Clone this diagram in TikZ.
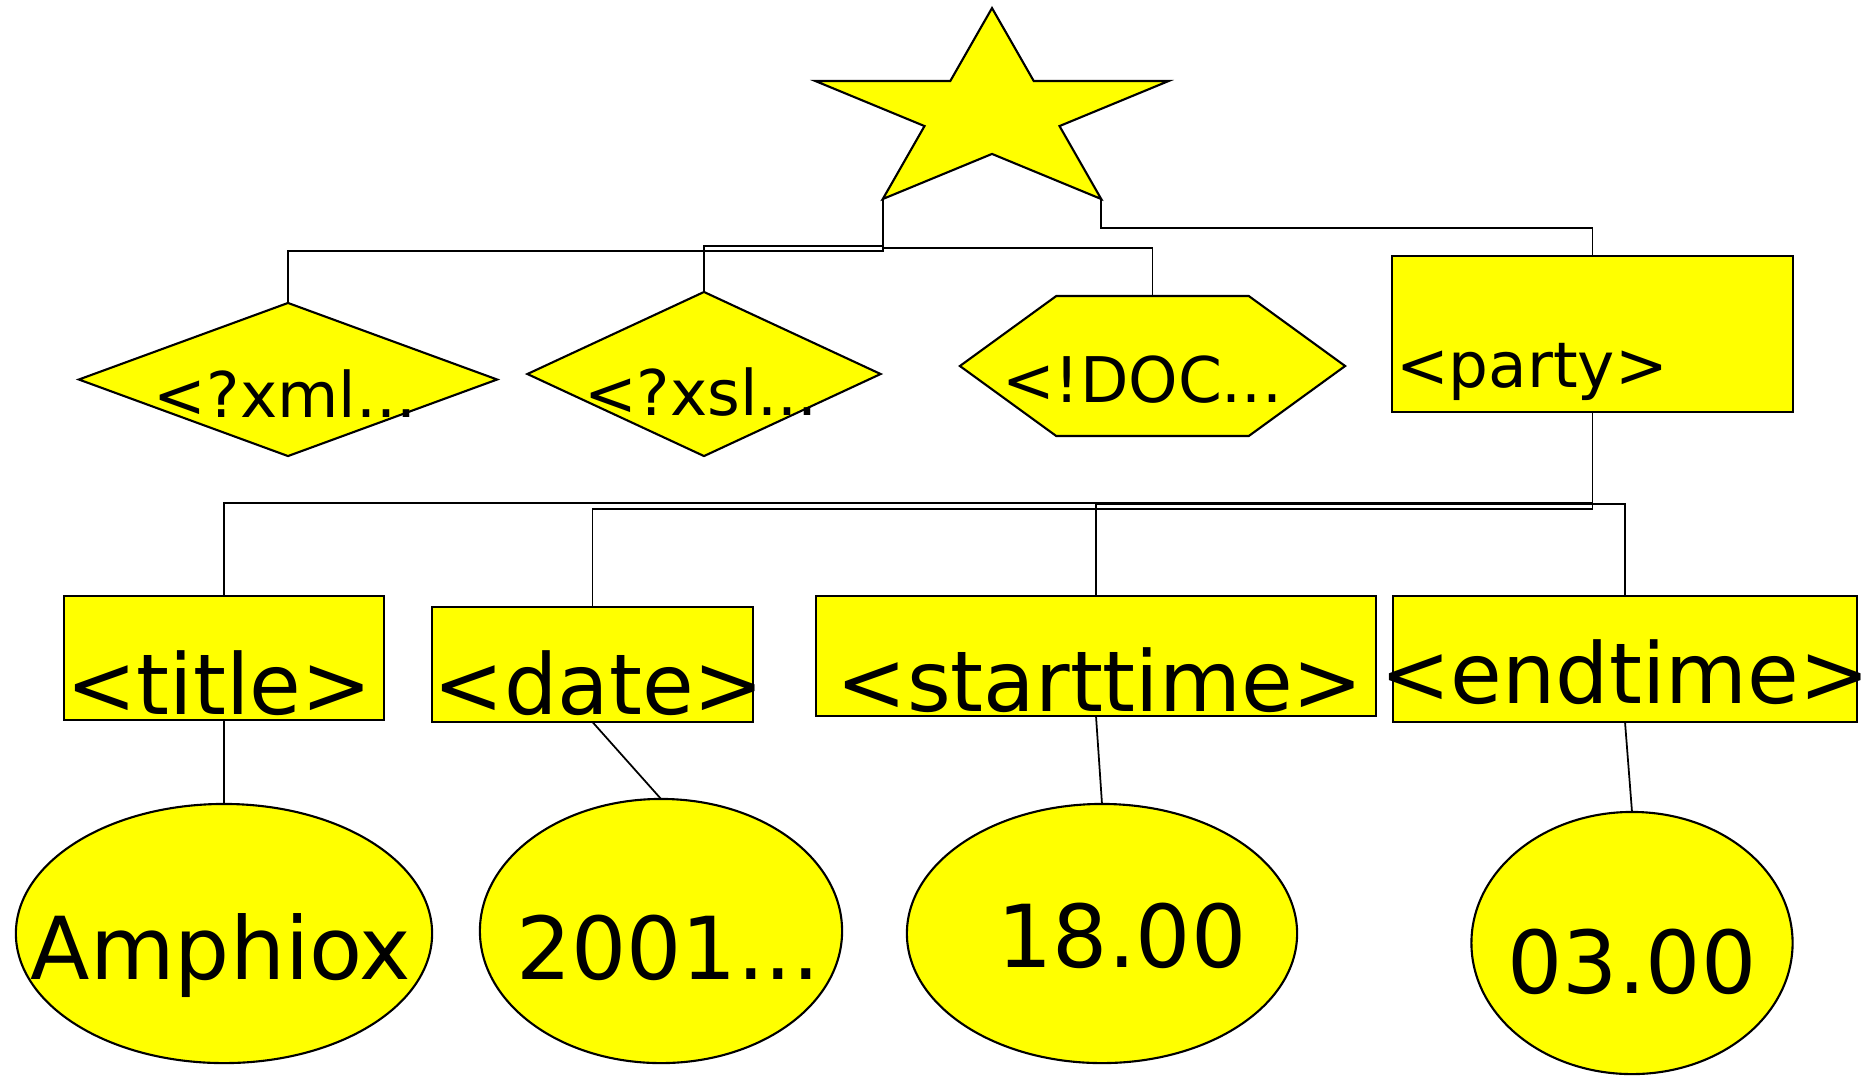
\documentclass[tikz,border=0pt]{standalone}
\usepackage{fontspec}
\setmainfont{DejaVu Sans}
\usetikzlibrary{shapes.geometric}
\usetikzlibrary{shapes.symbols}
\definecolor{nodeyellow}{RGB}{255,255,0}

\begin{document}
\begin{tikzpicture}[x=0.01cm, y=-0.01cm,
    box/.style={draw, fill=nodeyellow, line width=0.6pt, inner sep=0pt, outer sep=0pt},
    link/.style={line width=0.5pt},
    pitag/.style={inner sep=0pt, anchor=base, font=\fontsize{17.9pt}{20pt}\selectfont},
    tag/.style={inner sep=0pt, anchor=base, font=\fontsize{23.9pt}{26pt}\selectfont},
    leaf/.style={inner sep=0pt, anchor=base, font=\fontsize{24.7pt}{27pt}\selectfont}]

    \useasboundingbox (0,0) rectangle (1870,1075);

    %nodes
    \node[box, star, star points=5, star point ratio=2.618, minimum size=2.11cm, xscale=1.76, transform shape] (root) at (992,113.6) {};
    \node[box, diamond, minimum width=4.18cm, minimum height=1.53cm] (xml) at (288,379.5) {};
    \node[box, diamond, minimum width=3.53cm, minimum height=1.64cm] (xsl) at (704,374) {};
    \node[box, signal, signal to=west and east, signal pointer angle=72, minimum width=3.85cm, minimum height=1.40cm] (doctype) at (1152.5,366) {};
    \node[box, minimum width=4.01cm, minimum height=1.56cm] (party) at (1592.5,334) {};
    \node[box, minimum width=3.20cm, minimum height=1.24cm] (title) at (224,658) {};
    \node[box, minimum width=3.21cm, minimum height=1.15cm] (date) at (592.5,664.5) {};
    \node[box, minimum width=5.60cm, minimum height=1.20cm] (starttime) at (1096,656) {};
    \node[box, minimum width=4.64cm, minimum height=1.26cm] (endtime) at (1625,659) {};
    \node[box, ellipse, minimum width=4.16cm, minimum height=2.59cm] (titleval) at (224,933.5) {};
    \node[box, ellipse, minimum width=3.62cm, minimum height=2.64cm] (dateval) at (661,931) {};
    \node[box, ellipse, minimum width=3.90cm, minimum height=2.59cm] (startval) at (1102,933.5) {};
    \node[box, ellipse, minimum width=3.21cm, minimum height=2.62cm] (endval) at (1632,943) {};

    % edges
    \draw[link] (root.outer point 3) -- ++(0,52) -| (xml.north);
    \draw[link] (root.outer point 3) -- ++(0,47) -| (xsl.north);
    \draw[link] (root.outer point 3) -- ++(0,49) -| (doctype.north);
    \draw[link] (root.outer point 4) -- ++(0,29) -| (party.north);
    \draw[link] (party.south) -- ++(0,91) -| (title.north);
    \draw[link] (party.south) -- ++(0,97) -| (date.north);
    \draw[link] (party.south) -- ++(0,92) -| (starttime.north);
    \draw[link] (party.south) -- ++(0,92) -| (endtime.north);
    \draw[link] (title.south) -- (titleval.north);
    \draw[link] (date.south) -- (dateval.north);
    \draw[link] (starttime.south) -- (startval.north);
    \draw[link] (endtime.south) -- (endval.north);

    % labels
    \node[pitag] (xml-txt) at (285,417) {<?xml...};
    \node[pitag] (xsl-txt) at (701,415) {<?xsl...};
    \node[pitag] (doctype-txt) at (1142,402) {<!DOC...};
    \node[pitag] (party-txt) at (1532,387) {<party>};
    \node[tag] (title-txt) at (219,714) {<title>};
    \node[tag] (date-txt) at (599,714) {<date>};
    \node[tag] (starttime-txt) at (1100,711) {<starttime>};
    \node[tag] (endtime-txt) at (1625,703) {<endtime>};
    \node[leaf] (titleval-txt) at (221,979) {Amphiox};
    \node[leaf] (dateval-txt) at (668,979) {2001...};
    \node[leaf] (startval-txt) at (1122,967) {18.00};
    \node[leaf] (endval-txt) at (1632,993) {03.00};
\end{tikzpicture}
\end{document}
